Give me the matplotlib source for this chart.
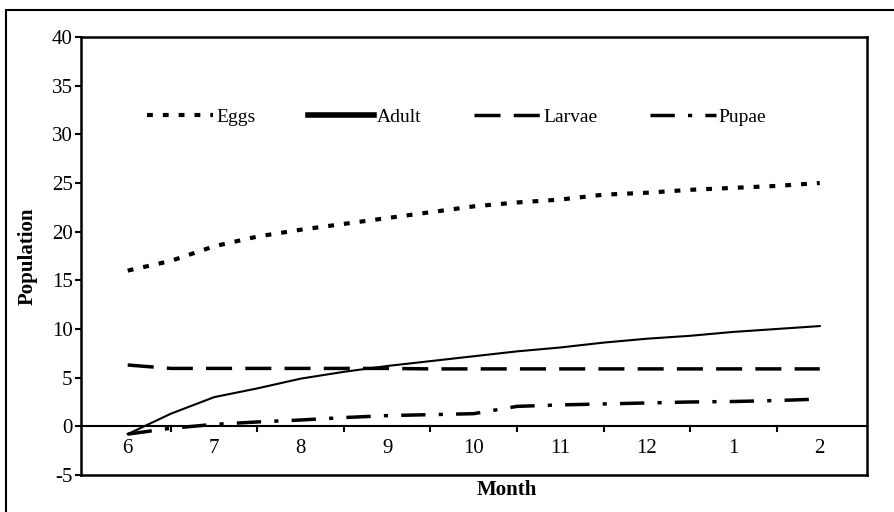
import numpy as np
import matplotlib.pyplot as plt
from matplotlib.patches import Rectangle

plt.rcParams['font.family'] = ['Liberation Serif', 'DejaVu Serif']
plt.rcParams['axes.unicode_minus'] = False

months = ['6', '7', '8', '9', '10', '11', '12', '1', '2']
# readings every half month, from 6 to 2
xpos = np.arange(0, 8.01, 0.5)
eggs = [16.0, 17.0, 18.5, 19.5, 20.2, 20.8, 21.4, 22.0, 22.6, 23.0, 23.3, 23.8, 24.0, 24.3, 24.5, 24.7, 25.0]
adult = [-0.8, 1.3, 3.0, 3.9, 4.9, 5.6, 6.2, 6.7, 7.2, 7.7, 8.1, 8.6, 9.0, 9.3, 9.7, 10.0, 10.3]
larvae = [6.3, 5.95, 5.95, 5.95, 5.95, 5.95, 5.95, 5.9, 5.9, 5.9, 5.9, 5.9, 5.9, 5.9, 5.9, 5.9, 5.9]
pupae = [-0.8, -0.2, 0.2, 0.45, 0.65, 0.9, 1.1, 1.2, 1.3, 2.05, 2.2, 2.3, 2.4, 2.5, 2.55, 2.65, 2.8]

fig = plt.figure(figsize=(8.94, 5.12), dpi=100)
ax = fig.add_axes([0.0906, 0.0723, 0.8796, 0.8554])

ax.plot(xpos, eggs, c='k', lw=3.0, ls=(0, (1.4, 2.4)), label='Eggs')
ax.plot(xpos, adult, c='k', lw=1.5, label='Adult')
ax.plot(xpos, larvae, c='k', lw=2.5, ls=(0, (7.5, 3.8)), label='Larvae')
ax.plot(xpos, pupae, c='k', lw=2.5, ls=(0, (7.0, 3.8, 1.2, 3.8)), label='Pupae')

ax.set_xlim(-0.54, 8.55)
ax.set_ylim(-5, 40)
ax.set_yticks(np.arange(-5, 41, 5))
ax.tick_params(axis='y', direction='out', length=4, width=1.5, labelsize=15, pad=2)
ax.set_xticks([])
for s in ax.spines.values():
    s.set_linewidth(1.8)

# category axis drawn on the zero line
ax.axhline(0, c='k', lw=1.5)
for i in range(len(months) - 1):
    ax.plot([i + 0.5, i + 0.5], [0, -0.5], c='k', lw=1.5)
for i, m in enumerate(months):
    ax.text(i, -2.3, m, ha='center', va='center', fontsize=15)

leg = ax.legend(ncol=4, frameon=False, loc='center left', bbox_to_anchor=(0.062, 0.817),
                fontsize=14, handlelength=3.4, handletextpad=0.15, columnspacing=2.7)
leg.legend_handles[1].set_linewidth(4)

fig.text(0.567, 0.043, 'Month', ha='center', va='center', fontsize=15, fontweight='bold')
fig.text(0.031, 0.5, 'Population', ha='center', va='center', rotation=90, fontsize=15, fontweight='bold')

fig.patches.append(Rectangle((0.0067, -0.1), 1.1, 1.08, transform=fig.transFigure,
                             fill=False, ec='k', lw=1.5))

plt.savefig('out.png')
